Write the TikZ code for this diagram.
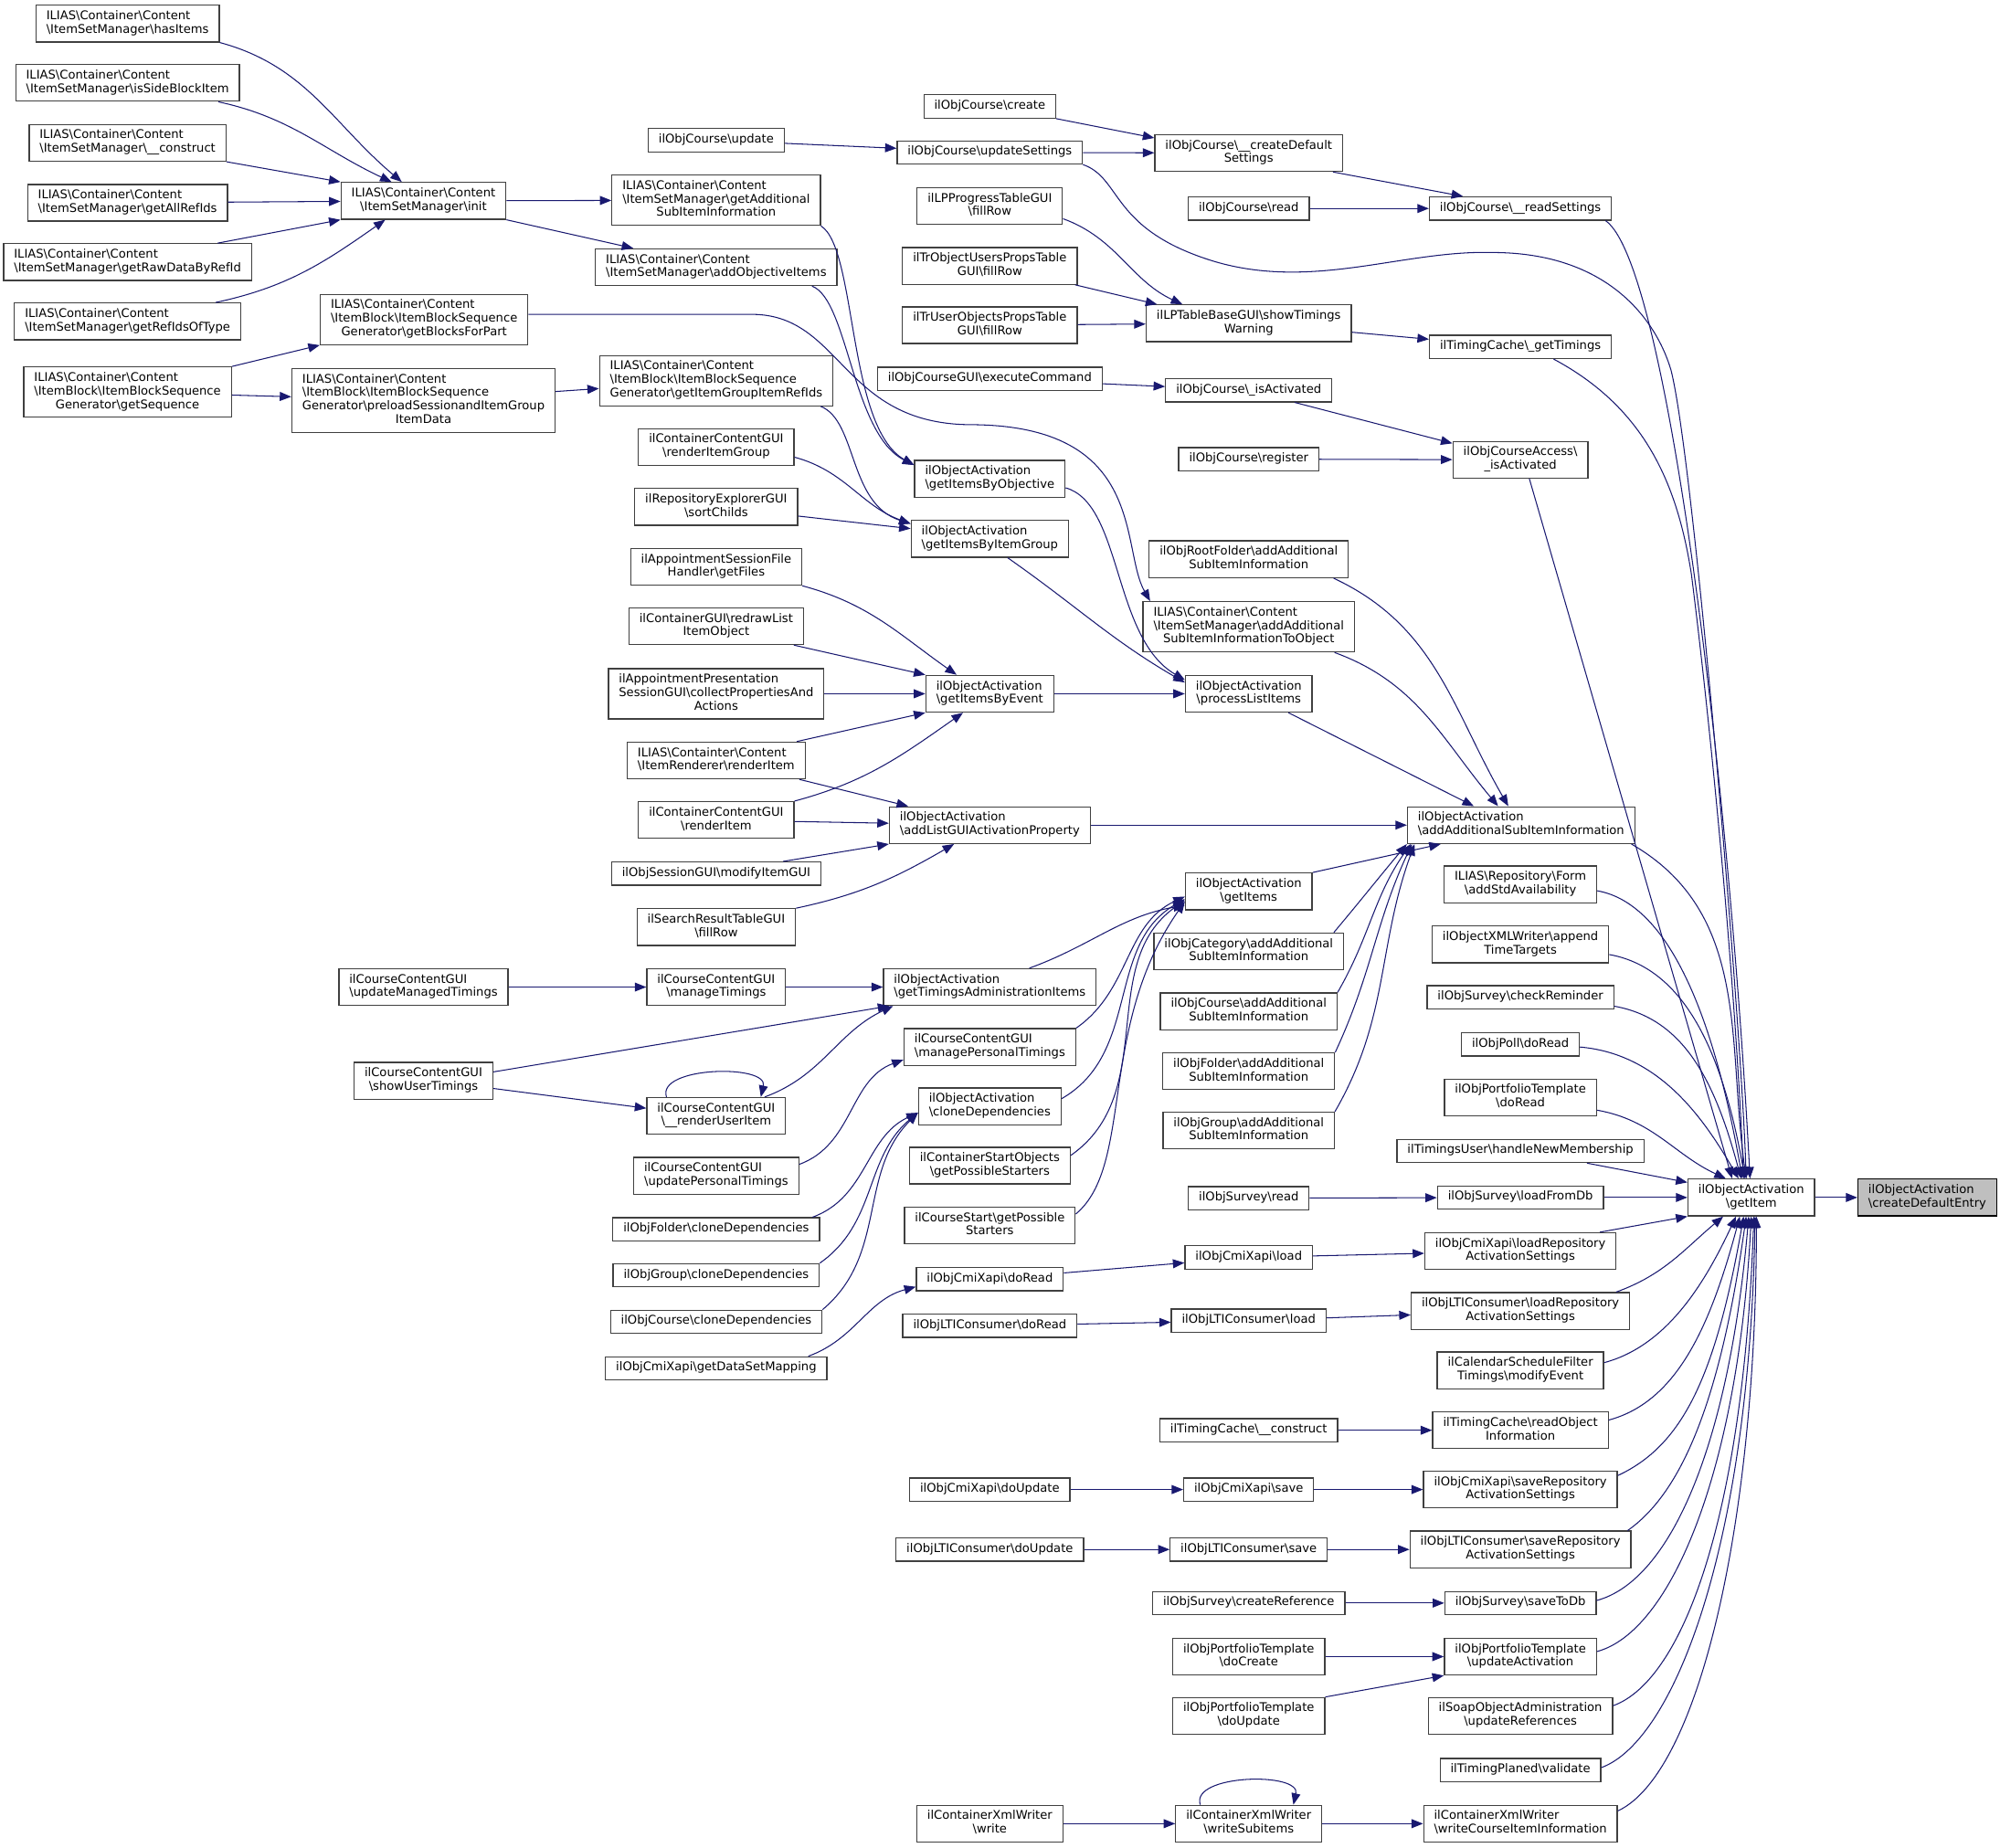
\documentclass[tikz,border=0pt]{standalone}
\usepackage{fontspec}
\setmainfont{DejaVu Sans}
\usepackage{tikz}
\usetikzlibrary{arrows.meta}
\definecolor{edgeblue}{HTML}{191970}
\definecolor{rootgrey}{HTML}{BFBFBF}
\newcommand{\bs}{\textbackslash}
\newcommand{\lone}[1]{\begin{tabular}{@{}c@{}}#1\end{tabular}}
\newcommand{\ltwo}[2]{\begin{tabular}{@{}l@{}}#1\\\multicolumn{1}{@{}c@{}}{#2}\end{tabular}}
\newcommand{\lthree}[3]{\begin{tabular}{@{}l@{}}#1\\#2\\\multicolumn{1}{@{}c@{}}{#3}\end{tabular}}
\newcommand{\lfour}[4]{\begin{tabular}{@{}l@{}}#1\\#2\\#3\\\multicolumn{1}{@{}c@{}}{#4}\end{tabular}}

\begin{document}
\begin{tikzpicture}[x=1pt,y=1pt,
    fn/.style={draw=black!75, line width=0.9pt, fill=white, inner xsep=8.2pt, inner ysep=3.8pt,
        font=\fontsize{9.4pt}{10.6pt}\selectfont},
    rootfn/.style={fn, draw=black, fill=rootgrey},
    call/.style={draw=edgeblue, line width=0.75pt, -{Triangle[length=9pt,width=7pt]}}]
    \useasboundingbox (0,0) rectangle (1568,-1449);

    \node[fn] (hasitems) at (100,-18.5) {\ltwo{ILIAS\bs Container\bs Content}{\bs ItemSetManager\bs hasItems}};
    \node[fn] (sideblock) at (100,-65) {\ltwo{ILIAS\bs Container\bs Content}{\bs ItemSetManager\bs isSideBlockItem}};
    \node[fn] (construct) at (100,-112) {\ltwo{ILIAS\bs Container\bs Content}{\bs ItemSetManager\bs\_\_construct}};
    \node[fn] (allrefids) at (100,-159) {\ltwo{ILIAS\bs Container\bs Content}{\bs ItemSetManager\bs getAllRefIds}};
    \node[fn] (rawdata) at (100,-205.5) {\ltwo{ILIAS\bs Container\bs Content}{\bs ItemSetManager\bs getRawDataByRefId}};
    \node[fn] (refidsoftype) at (100,-252) {\ltwo{ILIAS\bs Container\bs Content}{\bs ItemSetManager\bs getRefIdsOfType}};
    \node[fn] (getsequence) at (100,-307.5) {\lthree{ILIAS\bs Container\bs Content}{\bs ItemBlock\bs ItemBlockSequence}{Generator\bs getSequence}};

    \node[fn] (init) at (332,-157.5) {\ltwo{ILIAS\bs Container\bs Content}{\bs ItemSetManager\bs init}};
    \node[fn] (blocksforpart) at (332.5,-250.5) {\lthree{ILIAS\bs Container\bs Content}{\bs ItemBlock\bs ItemBlockSequence}{Generator\bs getBlocksForPart}};
    \node[fn] (preload) at (332,-314) {\lfour{ILIAS\bs Container\bs Content}{\bs ItemBlock\bs ItemBlockSequence}{Generator\bs preloadSessionandItemGroup}{ItemData}};
    \node[fn] (managedtimings) at (332,-774) {\ltwo{ilCourseContentGUI}{\bs updateManagedTimings}};
    \node[fn] (usertimings) at (332,-847.5) {\ltwo{ilCourseContentGUI}{\bs showUserTimings}};

    \node[fn] (update) at (561.5,-110) {\lone{ilObjCourse\bs update}};
    \node[fn] (getaddsub) at (561.5,-157) {\lthree{ILIAS\bs Container\bs Content}{\bs ItemSetManager\bs getAdditional}{SubItemInformation}};
    \node[fn] (objectiveitems) at (561.5,-209.5) {\ltwo{ILIAS\bs Container\bs Content}{\bs ItemSetManager\bs addObjectiveItems}};
    \node[fn] (grouprefids) at (561.5,-298.5) {\lthree{ILIAS\bs Container\bs Content}{\bs ItemBlock\bs ItemBlockSequence}{Generator\bs getItemGroupItemRefIds}};
    \node[fn] (rendergroup) at (561.5,-350.5) {\ltwo{ilContainerContentGUI}{\bs renderItemGroup}};
    \node[fn] (sortchilds) at (561.5,-397.5) {\ltwo{ilRepositoryExplorerGUI}{\bs sortChilds}};
    \node[fn] (getfiles) at (561.5,-444.5) {\ltwo{ilAppointmentSessionFile}{Handler\bs getFiles}};
    \node[fn] (redrawlist) at (561.5,-491) {\ltwo{ilContainerGUI\bs redrawList}{ItemObject}};
    \node[fn] (collectprops) at (561.5,-544) {\lthree{ilAppointmentPresentation}{SessionGUI\bs collectPropertiesAnd}{Actions}};
    \node[fn] (itemrenderer) at (561.5,-596.3) {\ltwo{ILIAS\bs Containter\bs Content}{\bs ItemRenderer\bs renderItem}};
    \node[fn] (renderitem) at (561.5,-643) {\ltwo{ilContainerContentGUI}{\bs renderItem}};
    \node[fn] (modifyitem) at (561.5,-685) {\lone{ilObjSessionGUI\bs modifyItemGUI}};
    \node[fn] (searchfillrow) at (561.5,-727) {\ltwo{ilSearchResultTableGUI}{\bs fillRow}};
    \node[fn] (managetimings) at (561.5,-774) {\ltwo{ilCourseContentGUI}{\bs manageTimings}};
    \node[fn] (renderuseritem) at (561.5,-875) {\ltwo{ilCourseContentGUI}{\bs\_\_renderUserItem}};
    \node[fn] (personaltimings) at (561.5,-922) {\ltwo{ilCourseContentGUI}{\bs updatePersonalTimings}};
    \node[fn] (folderclone) at (561.5,-964) {\lone{ilObjFolder\bs cloneDependencies}};
    \node[fn] (groupclone) at (561.5,-1000) {\lone{ilObjGroup\bs cloneDependencies}};
    \node[fn] (courseclone) at (561.5,-1036.5) {\lone{ilObjCourse\bs cloneDependencies}};
    \node[fn] (datasetmapping) at (561.5,-1073) {\lone{ilObjCmiXapi\bs getDataSetMapping}};

    \node[fn] (create) at (776,-83.5) {\lone{ilObjCourse\bs create}};
    \node[fn] (updatesettings) at (776,-119.5) {\lone{ilObjCourse\bs updateSettings}};
    \node[fn] (lpfillrow) at (776,-161.5) {\ltwo{ilLPProgressTableGUI}{\bs fillRow}};
    \node[fn] (trobjusers) at (776,-208.5) {\ltwo{ilTrObjectUsersPropsTable}{GUI\bs fillRow}};
    \node[fn] (truserobjs) at (776,-255) {\ltwo{ilTrUserObjectsPropsTable}{GUI\bs fillRow}};
    \node[fn] (executecommand) at (776,-297) {\lone{ilObjCourseGUI\bs executeCommand}};
    \node[fn] (byobjective) at (776,-375.5) {\ltwo{ilObjectActivation}{\bs getItemsByObjective}};
    \node[fn] (byitemgroup) at (776,-422.5) {\ltwo{ilObjectActivation}{\bs getItemsByItemGroup}};
    \node[fn] (byevent) at (776,-544) {\ltwo{ilObjectActivation}{\bs getItemsByEvent}};
    \node[fn] (listgui) at (776,-647) {\ltwo{ilObjectActivation}{\bs addListGUIActivationProperty}};
    \node[fn] (timingsadmin) at (776,-774) {\ltwo{ilObjectActivation}{\bs getTimingsAdministrationItems}};
    \node[fn] (managepersonal) at (776,-821) {\ltwo{ilCourseContentGUI}{\bs managePersonalTimings}};
    \node[fn] (clonedeps) at (776,-867.5) {\ltwo{ilObjectActivation}{\bs cloneDependencies}};
    \node[fn] (startobjects) at (776,-914) {\ltwo{ilContainerStartObjects}{\bs getPossibleStarters}};
    \node[fn] (coursestart) at (776,-961) {\ltwo{ilCourseStart\bs getPossible}{Starters}};
    \node[fn] (cmidoread) at (776,-1003) {\lone{ilObjCmiXapi\bs doRead}};
    \node[fn] (ltidoread) at (776,-1039.6) {\lone{ilObjLTIConsumer\bs doRead}};
    \node[fn] (cmidoupdate) at (776,-1168) {\lone{ilObjCmiXapi\bs doUpdate}};
    \node[fn] (ltidoupdate) at (776,-1215) {\lone{ilObjLTIConsumer\bs doUpdate}};
    \node[fn] (xmlwrite) at (776,-1430) {\ltwo{ilContainerXmlWriter}{\bs write}};

    \node[fn] (defaultsettings) at (979,-120) {\ltwo{ilObjCourse\bs\_\_createDefault}{Settings}};
    \node[fn] (courseread) at (979,-163.5) {\lone{ilObjCourse\bs read}};
    \node[fn] (timingswarning) at (979,-253.5) {\ltwo{ilLPTableBaseGUI\bs showTimings}{Warning}};
    \node[fn] (courseactivated) at (979,-306) {\lone{ilObjCourse\bs\_isActivated}};
    \node[fn] (register) at (979,-360) {\lone{ilObjCourse\bs register}};
    \node[fn] (rootfolder) at (979,-438.5) {\ltwo{ilObjRootFolder\bs addAdditional}{SubItemInformation}};
    \node[fn] (toobject) at (979,-491.5) {\lthree{ILIAS\bs Container\bs Content}{\bs ItemSetManager\bs addAdditional}{SubItemInformationToObject}};
    \node[fn] (processlist) at (979,-544) {\ltwo{ilObjectActivation}{\bs processListItems}};
    \node[fn] (getitems) at (979,-699) {\ltwo{ilObjectActivation}{\bs getItems}};
    \node[fn] (categoryadd) at (979,-746) {\ltwo{ilObjCategory\bs addAdditional}{SubItemInformation}};
    \node[fn] (courseadd) at (979,-793) {\ltwo{ilObjCourse\bs addAdditional}{SubItemInformation}};
    \node[fn] (folderadd) at (979,-840) {\ltwo{ilObjFolder\bs addAdditional}{SubItemInformation}};
    \node[fn] (groupadd) at (979,-886.5) {\ltwo{ilObjGroup\bs addAdditional}{SubItemInformation}};
    \node[fn] (surveyread) at (979,-939.5) {\lone{ilObjSurvey\bs read}};
    \node[fn] (cmiload) at (979,-986) {\lone{ilObjCmiXapi\bs load}};
    \node[fn] (ltiload) at (979,-1035.6) {\lone{ilObjLTIConsumer\bs load}};
    \node[fn] (cacheconstruct) at (979,-1121.5) {\lone{ilTimingCache\bs\_\_construct}};
    \node[fn] (cmisave) at (979,-1168) {\lone{ilObjCmiXapi\bs save}};
    \node[fn] (ltisave) at (979,-1215) {\lone{ilObjLTIConsumer\bs save}};
    \node[fn] (createreference) at (979,-1257) {\lone{ilObjSurvey\bs createReference}};
    \node[fn] (docreate) at (979,-1299) {\ltwo{ilObjPortfolioTemplate}{\bs doCreate}};
    \node[fn] (doupdate) at (979,-1345.5) {\ltwo{ilObjPortfolioTemplate}{\bs doUpdate}};
    \node[fn] (writesubitems) at (979,-1430) {\ltwo{ilContainerXmlWriter}{\bs writeSubitems}};

    \node[fn] (readsettings) at (1192,-163.5) {\lone{ilObjCourse\bs\_\_readSettings}};
    \node[fn] (gettimings) at (1192,-272) {\lone{ilTimingCache\bs\_getTimings}};
    \node[fn] (accessactivated) at (1192,-360.5) {\ltwo{ilObjCourseAccess\bs}{\_isActivated}};
    \node[fn] (addadditional) at (1192.5,-647) {\ltwo{ilObjectActivation}{\bs addAdditionalSubItemInformation}};
    \node[fn] (stdavailability) at (1192,-693.5) {\ltwo{ILIAS\bs Repository\bs Form}{\bs addStdAvailability}};
    \node[fn] (timetargets) at (1192,-740.5) {\ltwo{ilObjectXMLWriter\bs append}{TimeTargets}};
    \node[fn] (checkreminder) at (1192,-782) {\lone{ilObjSurvey\bs checkReminder}};
    \node[fn] (polldoread) at (1192,-819) {\lone{ilObjPoll\bs doRead}};
    \node[fn] (portfoliodoread) at (1192,-860.5) {\ltwo{ilObjPortfolioTemplate}{\bs doRead}};
    \node[fn] (newmembership) at (1192,-902.5) {\lone{ilTimingsUser\bs handleNewMembership}};
    \node[fn] (loadfromdb) at (1192,-939) {\lone{ilObjSurvey\bs loadFromDb}};
    \node[fn] (cmiloadrepo) at (1192,-981) {\ltwo{ilObjCmiXapi\bs loadRepository}{ActivationSettings}};
    \node[fn] (ltiloadrepo) at (1192,-1028) {\ltwo{ilObjLTIConsumer\bs loadRepository}{ActivationSettings}};
    \node[fn] (modifyevent) at (1192,-1074.5) {\ltwo{ilCalendarScheduleFilter}{Timings\bs modifyEvent}};
    \node[fn] (readobjectinfo) at (1192,-1121.5) {\ltwo{ilTimingCache\bs readObject}{Information}};
    \node[fn] (cmisaverepo) at (1192,-1168) {\ltwo{ilObjCmiXapi\bs saveRepository}{ActivationSettings}};
    \node[fn] (ltisaverepo) at (1192,-1215) {\ltwo{ilObjLTIConsumer\bs saveRepository}{ActivationSettings}};
    \node[fn] (savetodb) at (1192,-1257) {\lone{ilObjSurvey\bs saveToDb}};
    \node[fn] (updateactivation) at (1192,-1299) {\ltwo{ilObjPortfolioTemplate}{\bs updateActivation}};
    \node[fn] (updatereferences) at (1192,-1345.5) {\ltwo{ilSoapObjectAdministration}{\bs updateReferences}};
    \node[fn] (timingvalidate) at (1192,-1388) {\lone{ilTimingPlaned\bs validate}};
    \node[fn] (courseiteminfo) at (1192,-1430) {\ltwo{ilContainerXmlWriter}{\bs writeCourseItemInformation}};

    \node[fn] (getitem) at (1373,-939) {\ltwo{ilObjectActivation}{\bs getItem}};
    \node[rootfn] (createentry) at (1511,-939) {\ltwo{ilObjectActivation}{\bs createDefaultEntry}};

    \draw[call] (hasitems.south east) to[out=-15,in=140] ([xshift=-17pt]init.north);
    \draw[call] ([xshift=-17pt]sideblock.south east) to[out=-12,in=155] ([xshift=-25pt]init.north);
    \draw[call] (construct.south east) -- (init.north west);
    \draw[call] (allrefids) -- (init);
    \draw[call] ([xshift=-27pt]rawdata.north east) -- (init.south west);
    \draw[call] ([xshift=-20pt]refidsoftype.north east) to[out=12,in=-145] ([xshift=-30pt]init.south);
    \draw[call] (init) -- (getaddsub);
    \draw[call] (init.south east) -- ([xshift=-65pt]objectiveitems.north);
    \draw[call] (getsequence.north east) -- (blocksforpart.south west);
    \draw[call] (getsequence) -- (preload);
    \draw[call] (preload) -- (grouprefids);
    \draw[call] ([yshift=4pt]blocksforpart.east) -- (590,-246.5) .. controls (660,-247) and (660,-332) .. (760,-333)
        .. controls (900,-333) and (878,-430) .. ([xshift=6pt]toobject.north west);

    \draw[call] (getaddsub.south east) .. controls (672,-195) and (664,-335) .. ([yshift=-4pt]byobjective.north west);
    \draw[call] ([xshift=-20pt]objectiveitems.south east) .. controls (665,-235) and (668,-340) .. ([yshift=-4pt]byobjective.north west);
    \draw[call] ([xshift=-10pt]grouprefids.south east) .. controls (672,-330) and (665,-395) .. ([yshift=-3pt]byitemgroup.north west);
    \draw[call] ([yshift=-8pt]rendergroup.east) to[out=-15,in=160] ([yshift=-3pt]byitemgroup.north west);
    \draw[call] (sortchilds) -- ([yshift=8pt]byitemgroup.west);
    \draw[call] ([yshift=-7pt]byobjective.east) .. controls (880,-395) and (872,-500) .. ([yshift=-4pt]processlist.north west);
    \draw[call] ([xshift=14pt]byitemgroup.south) to[out=-35,in=150] ([yshift=-6pt]processlist.north west);
    \draw[call] (byevent) -- (processlist);

    \draw[call] (getfiles.south east) to[out=-15,in=145] ([xshift=-26pt]byevent.north);
    \draw[call] ([xshift=-8pt]redrawlist.south east) -- (byevent.north west);
    \draw[call] (collectprops) -- (byevent);
    \draw[call] ([xshift=-7pt]itemrenderer.north east) -- (byevent.south west);
    \draw[call] (renderitem.north east) to[out=15,in=-145] ([xshift=-21pt]byevent.south);
    \draw[call] ([xshift=-5pt]itemrenderer.south east) -- ([xshift=-64pt]listgui.north);
    \draw[call] (renderitem) -- (listgui);
    \draw[call] ([xshift=-30pt]modifyitem.north east) -- (listgui.south west);
    \draw[call] (searchfillrow.north east) to[out=12,in=-150] ([xshift=-28pt]listgui.south);
    \draw[call] (listgui) -- (addadditional);

    \draw[call] ([xshift=-19pt]processlist.south east) -- ([xshift=-37pt]addadditional.north);
    \draw[call] ([xshift=-16pt]toobject.south east) to[out=-20,in=130] ([xshift=-18pt]addadditional.north);
    \draw[call] ([xshift=-12pt]rootfolder.south east) to[out=-25,in=120] ([xshift=-10pt]addadditional.north);
    \draw[call] (getitems.north east) -- ([xshift=-63pt]addadditional.south);
    \draw[call] ([xshift=-8pt]categoryadd.north east) to[out=50,in=-130] (addadditional.south west);
    \draw[call] (courseadd.north east) to[out=60,in=-125] ([xshift=3pt]addadditional.south west);
    \draw[call] (folderadd.north east) to[out=65,in=-115] ([xshift=4pt]addadditional.south west);
    \draw[call] (groupadd.north east) to[out=60,in=-110] ([xshift=6pt]addadditional.south west);
    \draw[call] ([xshift=-3pt]addadditional.south east) to[out=-30,in=98] ([xshift=-4pt]getitem.north);

    \draw[call] ([xshift=31pt]timingsadmin.north) to[out=20,in=-170] ([yshift=4pt]getitems.south west);
    \draw[call] (managepersonal.north east) to[out=35,in=-155] ([yshift=-4pt]getitems.west);
    \draw[call] ([yshift=6pt]clonedeps.east) to[out=30,in=-150] ([yshift=-6pt]getitems.west);
    \draw[call] ([yshift=8pt]startobjects.east) to[out=35,in=-145] ([yshift=-7pt]getitems.west);
    \draw[call] ([yshift=9pt]coursestart.east) to[out=40,in=-125,out distance=60pt,in distance=120pt] ([yshift=-8pt]getitems.west);

    \draw[call] (managedtimings) -- (managetimings);
    \draw[call] (managetimings) -- (timingsadmin);
    \draw[call] ([yshift=7pt]usertimings.east) -- ([xshift=5pt]timingsadmin.south west);
    \draw[call] ([yshift=-6pt]usertimings.east) -- ([yshift=6pt]renderuseritem.west);
    \draw[call] ([xshift=38pt]renderuseritem.north) to[out=20,in=-155] ([xshift=8pt]timingsadmin.south west);
    \draw[call] ([xshift=-39pt]renderuseritem.north) .. controls +(-8,24) and +(6,26) .. ([xshift=35pt]renderuseritem.north);
    \draw[call] ([yshift=9pt]personaltimings.east) to[out=20,in=-160] ([yshift=-10pt]managepersonal.west);
    \draw[call] ([xshift=-6pt]folderclone.north east) to[out=20,in=-155] ([yshift=-5pt]clonedeps.west);
    \draw[call] (groupclone.north east) to[out=35,in=-140] ([yshift=-5pt]clonedeps.west);
    \draw[call] (courseclone.north east) to[out=40,in=-135] ([yshift=-5pt]clonedeps.west);
    \draw[call] ([xshift=-15pt]datasetmapping.north east) to[out=20,in=-165] ([yshift=-6pt]cmidoread.west);

    \draw[call] (create.south east) -- ([yshift=-3pt]defaultsettings.north west);
    \draw[call] (update) -- (updatesettings);
    \draw[call] (updatesettings) -- (defaultsettings);
    \draw[call] ([xshift=-8pt]defaultsettings.south east) -- ([xshift=-45pt]readsettings.north);
    \draw[call] (courseread) -- (readsettings);
    \draw[call] ([yshift=-10pt]lpfillrow.east) to[out=-20,in=155] ([xshift=-52pt]timingswarning.north);
    \draw[call] ([xshift=-2pt]trobjusers.south east) -- ([xshift=9pt]timingswarning.north west);
    \draw[call] (truserobjs) -- (timingswarning);
    \draw[call] ([yshift=-7pt]timingswarning.east) -- ([yshift=6pt]gettimings.west);
    \draw[call] (executecommand) -- (courseactivated);
    \draw[call] ([xshift=36pt]courseactivated.south) -- ([yshift=-2pt]accessactivated.north west);
    \draw[call] (register) -- (accessactivated);

    \draw[call] (updatesettings.south east) .. controls (880,-140) and (870,-180) .. (952,-205)
        .. controls (1030,-228) and (1100,-196) .. (1170,-198)
        .. controls (1260,-198) and (1298,-250) .. (1310,-290)
        .. controls (1328,-360) and (1365,-800) .. ([xshift=-4pt]getitem.north);
    \draw[call] ([xshift=-5pt]readsettings.south east) to[out=-35,in=93,out distance=60pt,in distance=300pt] ([xshift=-1pt]getitem.north);
    \draw[call] ([xshift=26pt]gettimings.south) .. controls (1290,-320) and (1315,-380) .. (1326,-450)
        .. controls (1340,-560) and (1360,-760) .. ([xshift=-6pt]getitem.north);
    \draw[call] ([xshift=7pt]accessactivated.south) -- ([xshift=-15pt]getitem.north);
    \draw[call] ([yshift=-5pt]stdavailability.east) to[out=-10,in=100,out distance=60pt,in distance=120pt] ([xshift=-7pt]getitem.north);
    \draw[call] ([yshift=-8pt]timetargets.east) to[out=-10,in=100,out distance=60pt,in distance=100pt] ([xshift=-5pt]getitem.north);
    \draw[call] ([yshift=-7pt]checkreminder.east) to[out=-10,in=105,out distance=55pt,in distance=80pt] ([xshift=-8pt]getitem.north);
    \draw[call] ([yshift=-2pt]polldoread.east) to[out=-5,in=120,out distance=60pt,in distance=60pt] ([xshift=-10pt]getitem.north);
    \draw[call] ([yshift=-10pt]portfoliodoread.east) to[out=-10,in=155] ([xshift=-20pt]getitem.north);
    \draw[call] ([xshift=-45pt]newmembership.south east) -- ([yshift=-3pt]getitem.north west);
    \draw[call] (loadfromdb) -- (getitem);
    \draw[call] ([xshift=-13pt]cmiloadrepo.north east) -- (getitem.south west);
    \draw[call] ([xshift=-11pt]ltiloadrepo.north east) to[out=20,in=-140] ([xshift=-22pt]getitem.south);
    \draw[call] ([yshift=6pt]modifyevent.east) to[out=15,in=-115,out distance=50pt,in distance=60pt] ([xshift=-12pt]getitem.south);
    \draw[call] ([yshift=8pt]readobjectinfo.east) to[out=15,in=-105,out distance=55pt,in distance=90pt] ([xshift=-9pt]getitem.south);
    \draw[call] ([yshift=11pt]cmisaverepo.east) to[out=25,in=-100,out distance=55pt,in distance=130pt] ([xshift=-6pt]getitem.south);
    \draw[call] ([xshift=-3pt]ltisaverepo.north east) to[out=35,in=-98,out distance=50pt,in distance=150pt] ([xshift=-4pt]getitem.south);
    \draw[call] ([yshift=2pt]savetodb.east) to[out=15,in=-95,out distance=60pt,in distance=180pt] ([xshift=-2pt]getitem.south);
    \draw[call] ([yshift=4pt]updateactivation.east) to[out=15,in=-93,out distance=60pt,in distance=200pt] (getitem.south);
    \draw[call] ([yshift=8pt]updatereferences.east) to[out=20,in=-92,out distance=60pt,in distance=230pt] ([xshift=2pt]getitem.south);
    \draw[call] ([yshift=2pt]timingvalidate.east) to[out=20,in=-91,out distance=60pt,in distance=260pt] ([xshift=3pt]getitem.south);
    \draw[call] ([yshift=10pt]courseiteminfo.east) to[out=25,in=-90,out distance=70pt,in distance=240pt] ([xshift=4pt]getitem.south);

    \draw[call] (surveyread) -- (loadfromdb);
    \draw[call] (cmidoread) -- (cmiload);
    \draw[call] (cmiload) -- (cmiloadrepo);
    \draw[call] (ltidoread) -- (ltiload);
    \draw[call] (ltiload) -- (ltiloadrepo);
    \draw[call] (cacheconstruct) -- (readobjectinfo);
    \draw[call] (cmidoupdate) -- (cmisave);
    \draw[call] (cmisave) -- (cmisaverepo);
    \draw[call] (ltidoupdate) -- (ltisave);
    \draw[call] (ltisave) -- (ltisaverepo);
    \draw[call] (createreference) -- (savetodb);
    \draw[call] (docreate) -- (updateactivation);
    \draw[call] (doupdate.north east) -- (updateactivation.south west);
    \draw[call] (xmlwrite) -- (writesubitems);
    \draw[call] ([xshift=-38pt]writesubitems.north) .. controls +(-8,24) and +(6,26) .. ([xshift=35pt]writesubitems.north);
    \draw[call] (writesubitems) -- (courseiteminfo);
    \draw[call] (getitem) -- (createentry);
\end{tikzpicture}
\end{document}
